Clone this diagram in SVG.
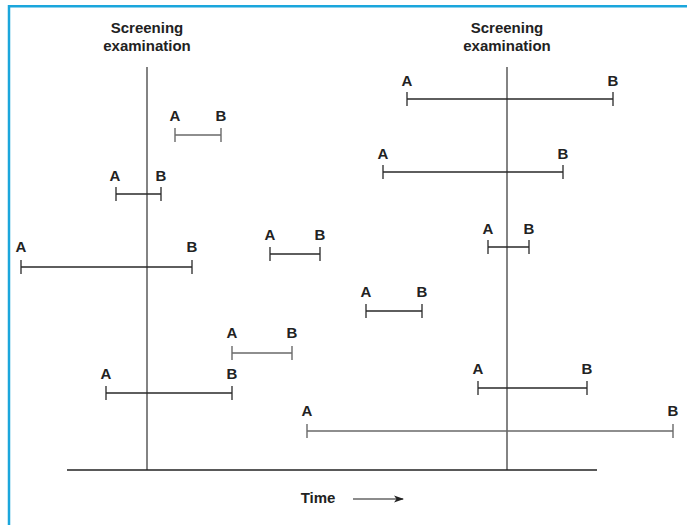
<svg xmlns="http://www.w3.org/2000/svg" width="687" height="525" viewBox="0 0 687 525">
<style>
.lbl{font-family:"Liberation Sans",Arial,sans-serif;font-weight:bold;font-size:15px;fill:#222;text-anchor:middle}
.ttl{font-family:"Liberation Sans",Arial,sans-serif;font-weight:bold;font-size:15px;fill:#222;text-anchor:middle}
.iv{stroke:#2a2a2a;stroke-width:1.3;fill:none}
.ivg{stroke:#6a6a6a;stroke-width:1.4;fill:none}
.ax{stroke:#5a5a5a;stroke-width:1.5;fill:none}
</style>
<defs>
<marker id="ah" markerWidth="10" markerHeight="8" refX="9" refY="4" orient="auto" markerUnits="userSpaceOnUse">
<path d="M0,0.5 L10,4 L0,7.5 L2.5,4 Z" fill="#222"/>
</marker>
</defs>
<rect width="687" height="525" fill="#fff"/>
<g id="frame">
<line x1="9" y1="5" x2="9" y2="525" stroke="#1ba6dc" stroke-width="2.5"/>
<line x1="8" y1="6.2" x2="687" y2="6.2" stroke="#1ba6dc" stroke-width="2.5"/>
</g>
<g id="axes">
<line class="ax" x1="147" y1="67" x2="147" y2="470"/>
<line class="ax" x1="507" y1="67" x2="507" y2="470"/>
<line x1="67" y1="470" x2="597" y2="470" stroke="#222" stroke-width="1.5"/>
</g>
<g id="titles">
<text class="ttl" x="147" y="33">Screening</text>
<text class="ttl" x="147" y="51">examination</text>
<text class="ttl" x="507" y="33">Screening</text>
<text class="ttl" x="507" y="51">examination</text>
</g>
<g id="connectors">
<path class="ivg" d="M175,135H221M175,128V142M221,128V142"/>
<path class="iv" d="M116,194H161M116,187V201M161,187V201"/>
<path class="iv" d="M21,267H192M21,260V274M192,260V274"/>
<path class="iv" d="M270,254H320M270,247V261M320,247V261"/>
<path class="iv" d="M366,311H422M366,304V318M422,304V318"/>
<path class="ivg" d="M232,353H292M232,346V360M292,346V360"/>
<path class="iv" d="M106,393H232M106,386V400M232,386V400"/>
<path class="iv" d="M407,99H613M407,92V106M613,92V106"/>
<path class="iv" d="M383,172H563M383,165V179M563,165V179"/>
<path class="iv" d="M488,247H529M488,240V254M529,240V254"/>
<path class="iv" d="M478,388H587M478,381V395M587,381V395"/>
<path class="ivg" d="M307,431H673M307,424V438M673,424V438"/>
<line x1="353" y1="499" x2="403" y2="499" stroke="#666" stroke-width="1.4" marker-end="url(#ah)"/>
</g>
<g id="labels">
<text class="lbl" x="175" y="121">A</text><text class="lbl" x="221" y="121">B</text>
<text class="lbl" x="115" y="181">A</text><text class="lbl" x="161" y="181">B</text>
<text class="lbl" x="21" y="252">A</text><text class="lbl" x="192" y="252">B</text>
<text class="lbl" x="270" y="240">A</text><text class="lbl" x="320" y="240">B</text>
<text class="lbl" x="366" y="297">A</text><text class="lbl" x="422" y="297">B</text>
<text class="lbl" x="232" y="338">A</text><text class="lbl" x="292" y="338">B</text>
<text class="lbl" x="106" y="379">A</text><text class="lbl" x="232" y="379">B</text>
<text class="lbl" x="407" y="86">A</text><text class="lbl" x="613" y="86">B</text>
<text class="lbl" x="383" y="159">A</text><text class="lbl" x="563" y="159">B</text>
<text class="lbl" x="488" y="234">A</text><text class="lbl" x="529" y="234">B</text>
<text class="lbl" x="478" y="374">A</text><text class="lbl" x="587" y="374">B</text>
<text class="lbl" x="307" y="416">A</text><text class="lbl" x="673" y="416">B</text>
<text class="lbl" x="318" y="503">Time</text>
</g>
</svg>
